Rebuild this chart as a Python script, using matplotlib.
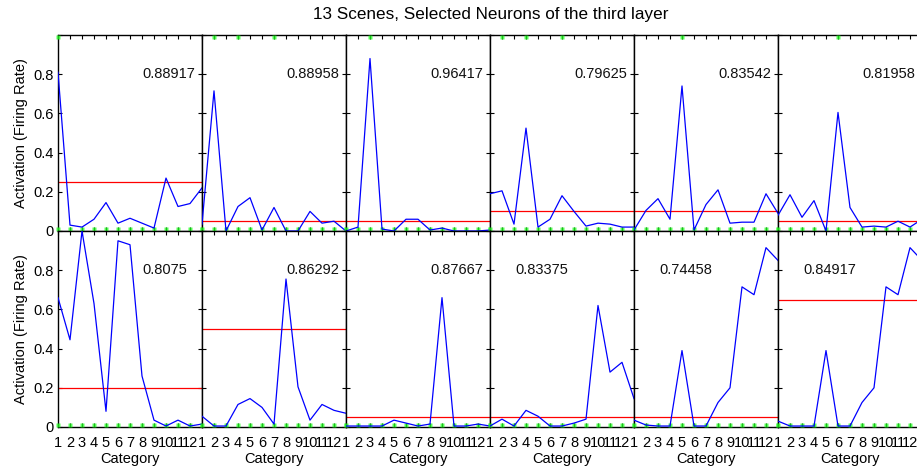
import matplotlib
matplotlib.use("Agg")
import matplotlib.pyplot as plt

plt.rcParams['font.family'] = ['Liberation Sans', 'DejaVu Sans']

categories = list(range(1, 14))
tick_labels = [str(i) for i in range(1, 13)] + ['']

# activation per panel (top row left->right, then bottom row)
act_top = [
    [0.81, 0.03, 0.02, 0.06, 0.145, 0.04, 0.065, 0.04, 0.015, 0.27, 0.125, 0.14, 0.22],
    [0.035, 0.715, 0.0, 0.125, 0.17, 0.005, 0.12, 0.0, 0.0, 0.10, 0.04, 0.05, 0.0],
    [0.0, 0.02, 0.88, 0.01, 0.0, 0.06, 0.06, 0.005, 0.015, 0.0, 0.0, 0.0, 0.005],
    [0.19, 0.205, 0.035, 0.525, 0.02, 0.06, 0.18, 0.10, 0.025, 0.04, 0.035, 0.02, 0.02],
    [0.005, 0.105, 0.165, 0.06, 0.74, 0.005, 0.135, 0.21, 0.04, 0.045, 0.045, 0.19, 0.09],
    [0.08, 0.185, 0.07, 0.155, 0.0, 0.605, 0.12, 0.02, 0.025, 0.02, 0.05, 0.02, 0.06],
]
act_bottom = [
    [0.66, 0.445, 1.0, 0.63, 0.08, 0.95, 0.93, 0.26, 0.035, 0.005, 0.035, 0.005, 0.015],
    [0.055, 0.005, 0.005, 0.115, 0.145, 0.10, 0.015, 0.755, 0.205, 0.035, 0.115, 0.085, 0.07],
    [0.005, 0.005, 0.005, 0.005, 0.035, 0.02, 0.005, 0.015, 0.66, 0.005, 0.005, 0.015, 0.005],
    [0.005, 0.04, 0.005, 0.085, 0.055, 0.005, 0.005, 0.02, 0.04, 0.62, 0.28, 0.33, 0.145],
    [0.035, 0.01, 0.005, 0.005, 0.39, 0.005, 0.005, 0.125, 0.20, 0.715, 0.675, 0.915, 0.85],
    [0.03, 0.005, 0.005, 0.005, 0.39, 0.005, 0.005, 0.125, 0.20, 0.715, 0.675, 0.915, 0.85],
]
thresh_top = [0.25, 0.05, 0.05, 0.10, 0.10, 0.05]
thresh_bottom = [0.20, 0.50, 0.05, 0.05, 0.05, 0.65]
score_top = ['0.88917', '0.88958', '0.96417', '0.79625', '0.83542', '0.81958']
score_bottom = ['0.8075', '0.86292', '0.87667', '0.83375', '0.74458', '0.84917']
score_x_top = [8, 8, 8, 8, 8, 8]
score_x_bottom = [8, 8, 8, 3.1, 3.1, 3.1]
# categories where trials saturate at the top (green marks at 1.0)
sat_top = [[1], [2, 4, 7], [3], [2, 4, 7], [5], [6]]
sat_bottom = [[], [], [], [], [], []]

W, H = 917, 467
fig = plt.figure(figsize=(W / 100, H / 100), dpi=100)

left0, pw = 58, 144
rows = [(231, 196), (427, 196)]  # bottom y pixel, height

def make_ax(col, row):
    yb, h = rows[row]
    return fig.add_axes([(left0 + col * pw) / W, (H - yb) / H, pw / W, h / H])

fs = 10.5
green = '#22ff22'
for row, (acts, ths, scores, sx, sats) in enumerate([
        (act_top, thresh_top, score_top, score_x_top, sat_top),
        (act_bottom, thresh_bottom, score_bottom, score_x_bottom, sat_bottom)]):
    for col in range(6):
        ax = make_ax(col, row)
        ax.set_xlim(1, 13)
        ax.set_ylim(0, 1)
        # green trial markers
        ax.plot(categories, [0.01] * len(categories), ls='none', marker='s', ms=3.2,
                color=green, mec='none', clip_on=False, zorder=2.6, alpha=0.75)
        if sats[col]:
            ax.plot(sats[col], [0.99] * len(sats[col]), ls='none', marker='s', ms=3.2,
                    color=green, mec='none', clip_on=False, zorder=2.6, alpha=0.75)
        ax.axhline(ths[col], color='#ff0000', lw=0.9, zorder=2)
        ax.plot(categories, acts[col], color='#0000ff', lw=0.9, zorder=3)
        ax.text(sx[col], 0.8, scores[col], fontsize=fs, ha='left', va='center', color='#111111')
        ax.set_xticks(categories)
        ax.set_yticks([0, 0.2, 0.4, 0.6, 0.8, 1.0])
        ax.tick_params(direction='in', top=True, right=True, length=3, width=0.8,
                       labelsize=fs, colors='black')
        ax.tick_params(axis='x', pad=6.5)
        ax.tick_params(axis='y', pad=3)
        if row == 1:
            ax.set_xticklabels(tick_labels)
            ax.set_xlabel('Category', fontsize=fs, labelpad=1.5)
        else:
            ax.set_xticklabels([])
        if col == 0:
            ax.set_yticklabels(['0', '0.2', '0.4', '0.6', '0.8', ''])
            ax.set_ylabel('Activation (Firing Rate)', fontsize=fs, labelpad=4)
        else:
            ax.set_yticklabels([])
        for sp in ax.spines.values():
            sp.set_linewidth(1.0)
            sp.set_color('black')
        ax.set_zorder(1)

fig.text(491 / W, 1 - 15 / H, '13 Scenes, Selected Neurons of the third layer',
         ha='center', va='center', fontsize=12.3)

fig.savefig('out.png', dpi=100)
